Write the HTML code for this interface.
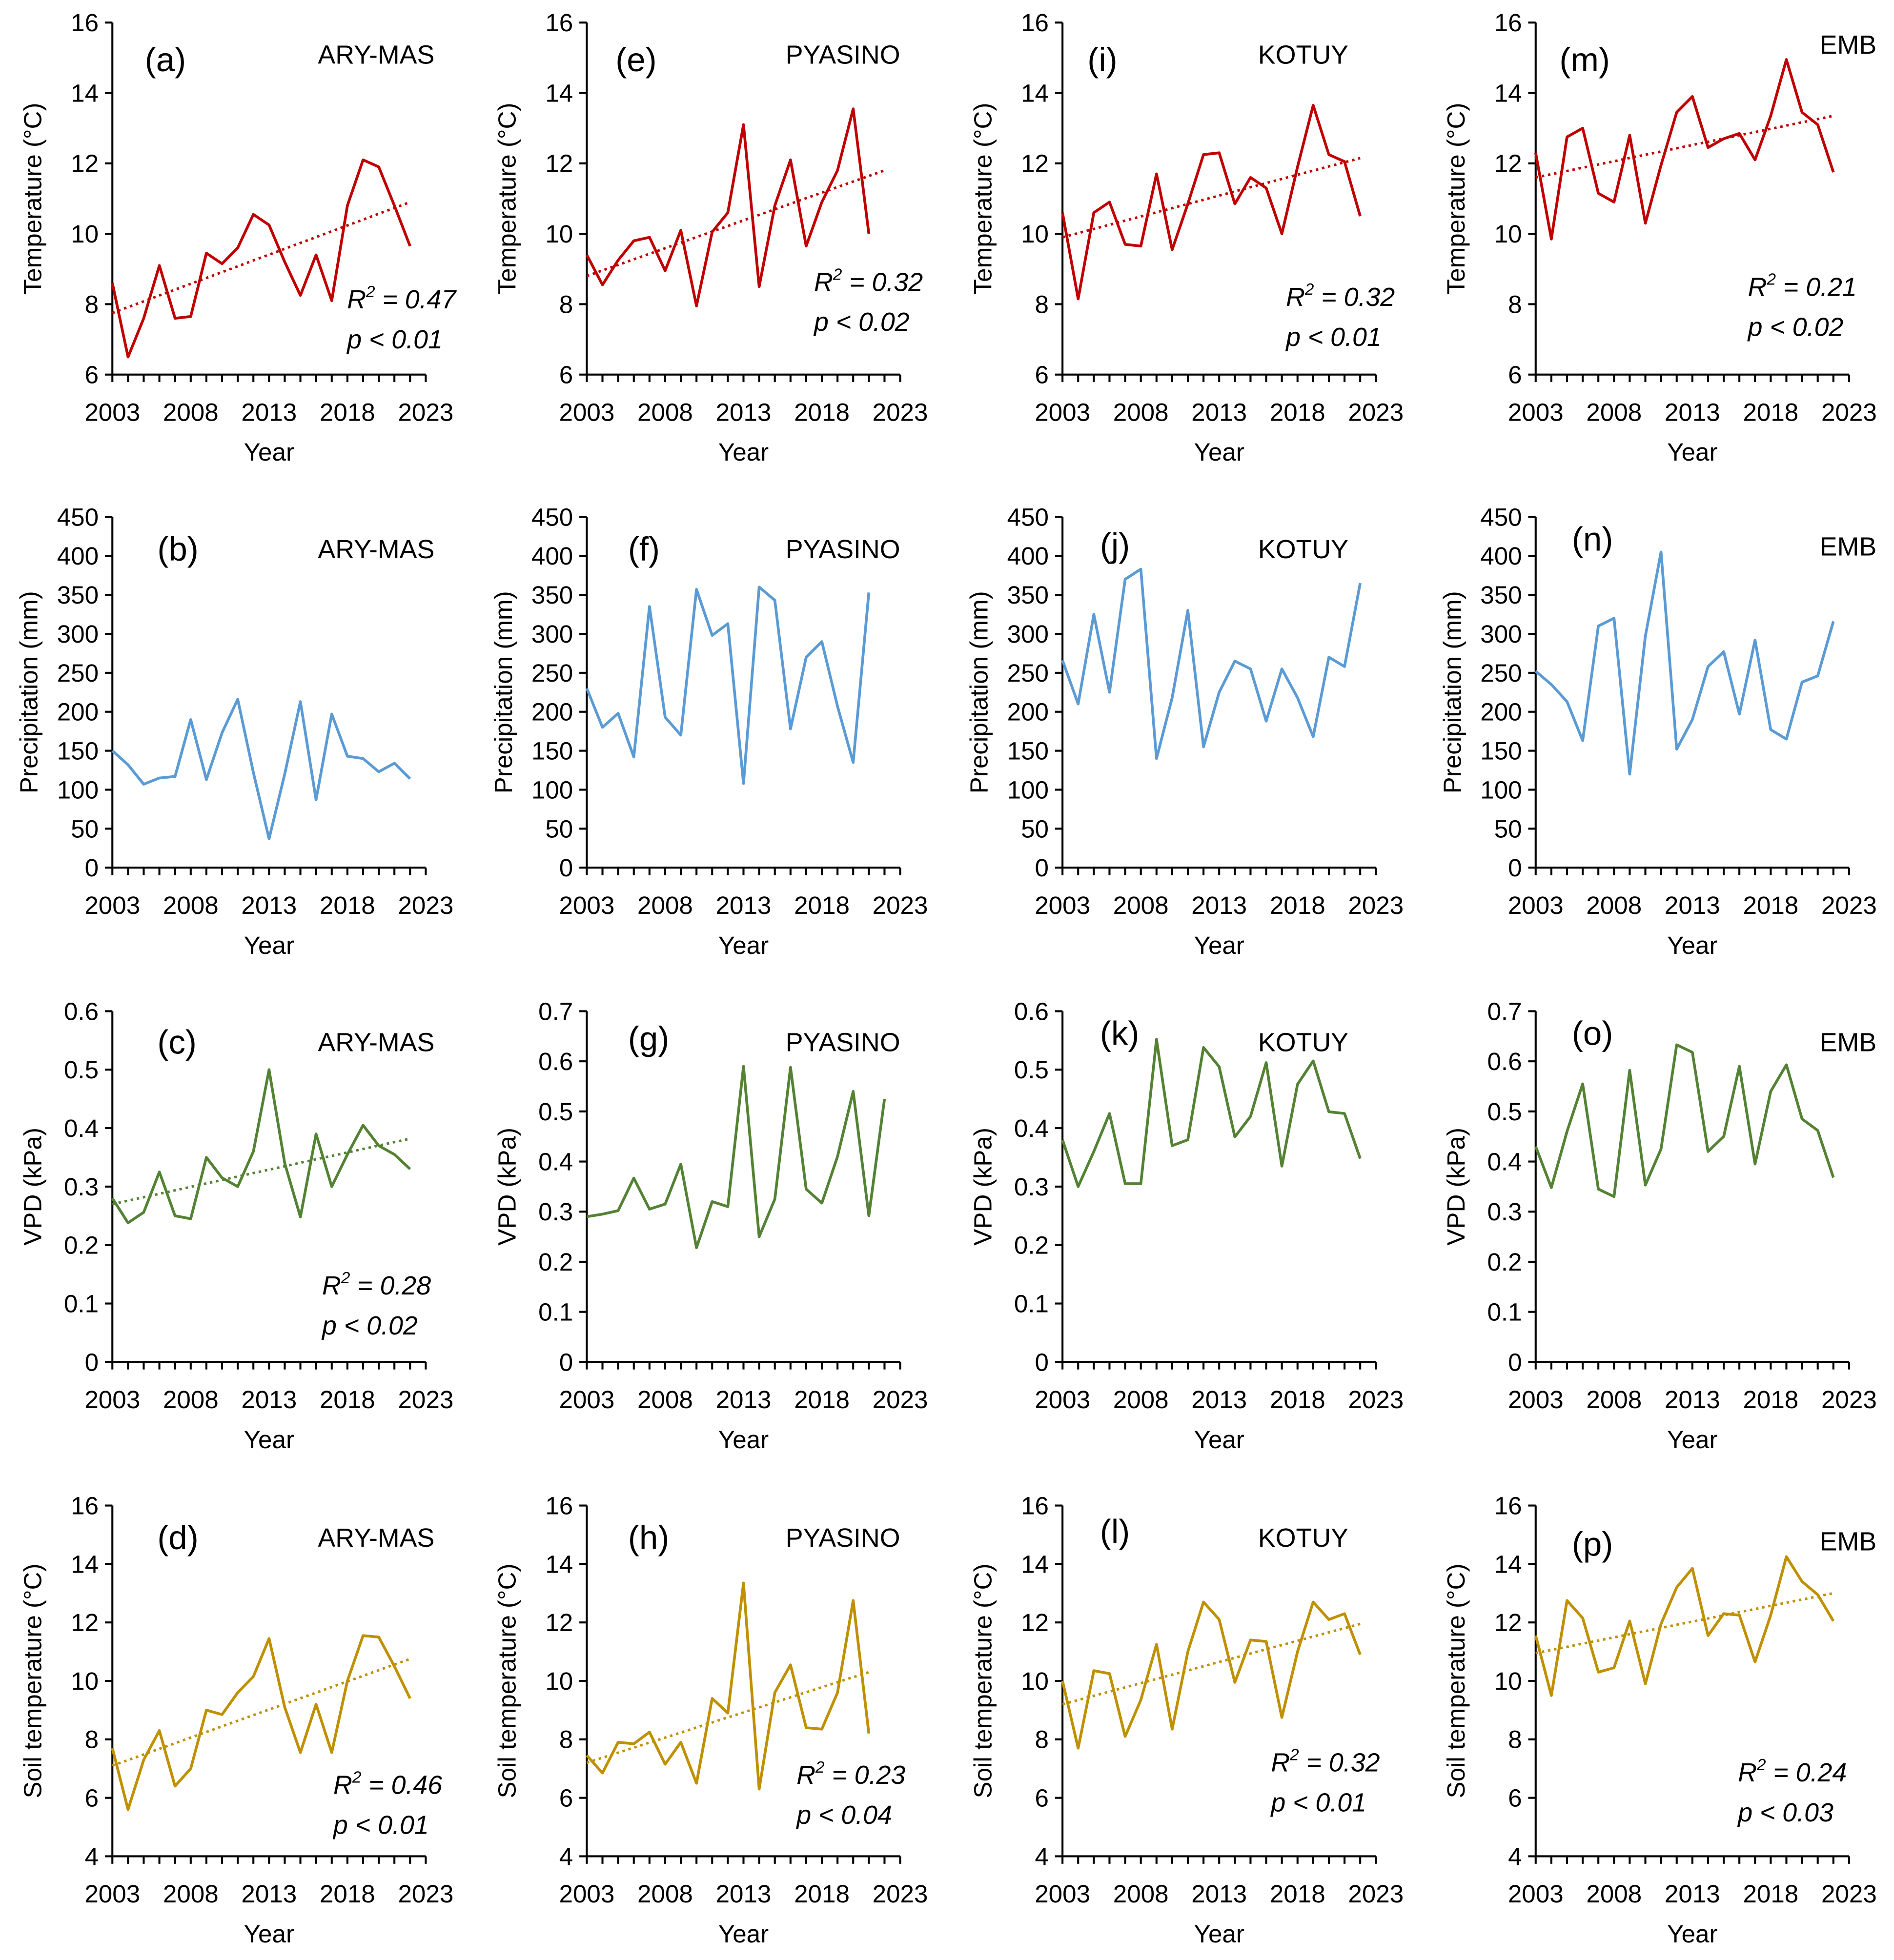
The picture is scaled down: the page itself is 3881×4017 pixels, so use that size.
<!DOCTYPE html>
<html><head><meta charset="utf-8"><style>
html,body{margin:0;padding:0;background:#fff;}
svg{display:block;font-family:"Liberation Sans",Arial,sans-serif;}
</style></head><body>
<svg id="fig" width="3881" height="4017" viewBox="0 0 1517 1570" xmlns="http://www.w3.org/2000/svg"></svg>
<script>
const years = [2003,2004,2005,2006,2007,2008,2009,2010,2011,2012,2013,2014,2015,2016,2017,2018,2019,2020,2021,2022];
const xTicks = [2003,2008,2013,2018,2023];
const tempTicks = [6,8,10,12,14,16];
const precTicks = [0,50,100,150,200,250,300,350,400,450];
const vpd6Ticks = [0,0.1,0.2,0.3,0.4,0.5,0.6];
const vpd7Ticks = [0,0.1,0.2,0.3,0.4,0.5,0.6,0.7];
const soilTicks = [4,6,8,10,12,14,16];

const tA = [8.6,6.5,7.6,9.1,7.6,7.65,9.45,9.15,9.6,10.55,10.25,9.2,8.25,9.4,8.1,10.8,12.1,11.9,10.8,9.65];
const tE = [9.4,8.55,9.25,9.8,9.9,8.95,10.1,7.95,10.05,10.6,13.1,8.5,10.8,12.1,9.65,10.9,11.8,13.55,10.0];
const tI = [10.6,8.15,10.6,10.9,9.7,9.65,11.7,9.55,10.85,12.25,12.3,10.85,11.6,11.3,10.0,11.9,13.65,12.25,12.05,10.5];
const tM = [12.3,9.85,12.75,13.0,11.15,10.9,12.8,10.3,11.95,13.45,13.9,12.45,12.7,12.85,12.1,13.35,14.95,13.45,13.1,11.75];
const pB = [150,132,107,115,117,190,113,173,216,122,37,120,213,87,197,143,140,123,134,114];
const pF = [230,180,198,142,335,193,170,357,298,313,108,360,343,178,270,290,207,135,353];
const pJ = [266,210,325,225,370,383,140,218,330,155,225,265,255,188,255,218,168,270,258,365];
const pN = [252,235,213,163,310,320,120,297,405,152,190,258,277,197,292,177,165,238,246,316];
const vC = [0.28,0.238,0.256,0.325,0.25,0.245,0.35,0.315,0.3,0.36,0.5,0.34,0.248,0.39,0.3,0.355,0.405,0.37,0.355,0.33];
const vG = [0.29,0.295,0.302,0.367,0.305,0.315,0.395,0.228,0.32,0.31,0.59,0.25,0.325,0.588,0.345,0.317,0.41,0.54,0.292,0.525];
const vK = [0.38,0.3,0.36,0.425,0.305,0.305,0.552,0.37,0.38,0.538,0.505,0.385,0.42,0.512,0.335,0.475,0.515,0.428,0.425,0.348];
const vO = [0.43,0.348,0.46,0.555,0.345,0.33,0.582,0.353,0.425,0.633,0.618,0.42,0.45,0.59,0.395,0.54,0.593,0.485,0.462,0.368];
const sD = [7.7,5.6,7.3,8.3,6.4,7.0,9.0,8.85,9.6,10.15,11.45,9.1,7.55,9.2,7.55,10.0,11.55,11.5,10.5,9.4];
const sH = [7.45,6.85,7.9,7.85,8.25,7.15,7.9,6.5,9.4,8.9,13.35,6.3,9.6,10.55,8.4,8.35,9.6,12.75,8.2];
const sL = [10.0,7.7,10.35,10.25,8.1,9.35,11.25,8.35,11.0,12.7,12.1,9.95,11.4,11.35,8.75,11.0,12.7,12.1,12.3,10.9];
const sP = [11.55,9.5,12.75,12.15,10.3,10.45,12.05,9.9,11.95,13.2,13.85,11.55,12.3,12.25,10.65,12.25,14.25,13.4,12.95,12.05];
const trA=[7.75,10.9], trE=[8.8,11.8], trI=[9.9,12.15], trM=[11.6,13.35];
const trC=[0.27,0.382];
const trD=[7.1,10.75], trH=[7.2,10.3], trL=[9.2,11.95], trP=[10.95,13.0];

const svg=document.getElementById('fig');
const NS='http://www.w3.org/2000/svg';
function el(t,a,p){const e=document.createElementNS(NS,t);for(const k in a)e.setAttribute(k,a[k]);(p||svg).appendChild(e);return e;}
const colX=[90,470,851,1230], W=251;
const rowY=[[18,300],[414,695],[810,1091],[1206,1487]];
const colors=['#C00000','#5B9BD5','#548235','#BF9000'];
const yTitles=['Temperature (°C)','Precipitation (mm)','VPD (kPa)','Soil temperature (°C)'];
const stations=['ARY-MAS','PYASINO','KOTUY','EMB'];
const panels=[
 [0,0,'a',tA,tempTicks,trA,[278,240],'0.47','0.01'],
 [1,0,'e',tE,tempTicks,trE,[652,226],'0.32','0.02'],
 [2,0,'i',tI,tempTicks,trI,[1030,238],'0.32','0.01'],
 [3,0,'m',tM,tempTicks,trM,[1400,230],'0.21','0.02'],
 [0,1,'b',pB,precTicks,null],[1,1,'f',pF,precTicks,null],[2,1,'j',pJ,precTicks,null],[3,1,'n',pN,precTicks,null],
 [0,2,'c',vC,vpd6Ticks,trC,[258,1030],'0.28','0.02'],
 [1,2,'g',vG,vpd7Ticks,null],[2,2,'k',vK,vpd6Ticks,null],[3,2,'o',vO,vpd7Ticks,null],
 [0,3,'d',sD,soilTicks,trD,[267,1430],'0.46','0.01'],
 [1,3,'h',sH,soilTicks,trH,[638,1422],'0.23','0.04'],
 [2,3,'l',sL,soilTicks,trL,[1018,1412],'0.32','0.01'],
 [3,3,'p',sP,soilTicks,trP,[1392,1420],'0.24','0.03'],
];
const letterY=[[48,48,48,48],[440,440,437,432],[835,832,828,828],[1232,1232,1227,1237]];
const stX=[348,721,1080,1503];
const stY=[[44,44,44,36],[440,440,440,438],[835,835,835,835],[1232,1232,1232,1235]];
panels.forEach(pn=>{
 const [c,r,letter,data,ticks,tr,rp,r2,pv]=pn;
 const x0=colX[c], yT=rowY[r][0], yB=rowY[r][1];
 const ymin=ticks[0], ymax=ticks[ticks.length-1];
 const X=v=>x0+(v-2003)/20*W;
 const Y=v=>yB-(v-ymin)/(ymax-ymin)*(yB-yT);
 const g=el('g',{});
 const ax=el('g',{stroke:'#000','stroke-width':1.6},g);
 el('line',{x1:x0,y1:yT,x2:x0,y2:yB},ax);
 el('line',{x1:x0,y1:yB,x2:x0+W,y2:yB},ax);
 ticks.forEach(t=>{
  el('line',{x1:x0-6,y1:Y(t),x2:x0,y2:Y(t)},ax);
  const tx=el('text',{x:x0-11,y:Y(t)+7,'text-anchor':'end','font-size':20,fill:'#000',stroke:'none'},g);
  
  
  tx.textContent=String(t);
 });
 for(let yr=2003;yr<=2023;yr++) el('line',{x1:X(yr),y1:yB,x2:X(yr),y2:yB+6},ax);
 xTicks.forEach(t=>{
  const tx=el('text',{x:X(t),y:yB+37,'text-anchor':'middle','font-size':20,fill:'#000'},g);
  
  
  tx.textContent=String(t);
 });
 const xt=el('text',{x:x0+W/2,y:yB+69,'text-anchor':'middle','font-size':20},g);
 xt.textContent='Year';
 const ytx=x0-57+(r==1?-3:0), ytm=(yT+yB)/2;
 const yt=el('text',{x:ytx,y:ytm,'text-anchor':'middle','font-size':20,transform:`rotate(-90 ${ytx} ${ytm})`},g);
 yt.textContent=yTitles[r];
 const pts=data.map((v,i)=>X(years[i]).toFixed(2)+','+Y(v).toFixed(2)).join(' ');
 const line=el('polyline',{points:pts,fill:'none',stroke:colors[r],'stroke-width':2.2,'stroke-linejoin':'round'},g);
 
 if(tr){
  const endYr=(data.length===19&&r==0)?2022:years[data.length-1];
  const tl=el('line',{x1:X(2003),y1:Y(tr[0]),x2:X(endYr),y2:Y(tr[1]),stroke:colors[r],'stroke-width':2,'stroke-dasharray':'2 3'},g);
  
  const t1=el('text',{x:rp[0],y:rp[1]+7,'font-size':21,'font-style':'italic'},g);
  
  t1.innerHTML='R<tspan font-size="13" dy="-9">2</tspan><tspan dy="9"> = '+r2+'</tspan>';
  const t2=el('text',{x:rp[0],y:rp[1]+39,'font-size':21,'font-style':'italic'},g);
  
  t2.textContent='p < '+pv;
 }
 const lx=[116,126,126,126][r]+(c==0?0:(colX[c]-90)+[0,-3,-6,-7][c]);
 const lt=el('text',{x:lx,y:letterY[r][c]+9,'font-size':27},g);
 lt.textContent='('+letter+')';
 const st=el('text',{x:stX[c],y:stY[r][c]+7,'text-anchor':'end','font-size':21},g);
 st.textContent=stations[c];
});
</script>
</body></html>
